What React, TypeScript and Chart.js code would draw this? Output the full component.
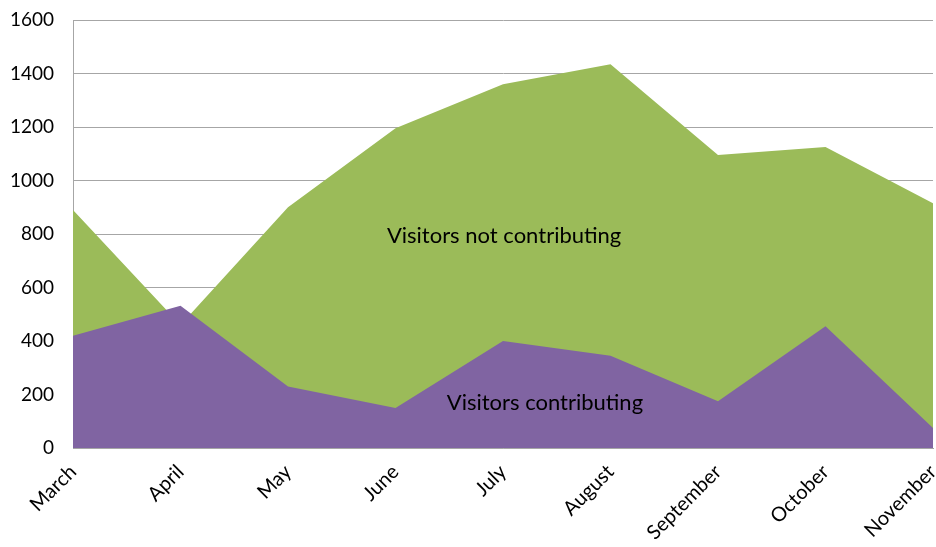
import React, { useEffect, useRef } from "react";
import { Chart, registerables } from "chart.js";

Chart.register(...registerables);

const categories = ["March", "April", "May", "June", "July", "August", "September", "October", "November"];
const notContributing = [890, 460, 900, 1195, 1360, 1435, 1095, 1125, 915];
const contributing = [420, 532, 230, 150, 400, 345, 175, 455, 75];
const yTicks = [0, 200, 400, 600, 800, 1000, 1200, 1400, 1600];
const annotationTexts = ["Visitors not contributing", "Visitors contributing"];
const annotationX = [4.01, 4.39];
const annotationY = [793, 168];

const FONT = "Lato, 'Open Sans', sans-serif";

const labelPlugin = {
  id: "areaLabels",
  afterDatasetsDraw(chart: any) {
    const { ctx, scales } = chart;
    ctx.save();
    ctx.font = `22px ${FONT}`;
    ctx.fillStyle = "#000000";
    ctx.textAlign = "center";
    ctx.textBaseline = "middle";
    annotationTexts.forEach((t, i) => {
      ctx.fillText(t, scales.x.getPixelForValue(annotationX[i]), scales.y.getPixelForValue(annotationY[i]));
    });
    ctx.restore();
  },
};

export default function App() {
  const ref = useRef<HTMLCanvasElement>(null);
  useEffect(() => {
    document.body.style.margin = "0";
    const chart = new Chart(ref.current!, {
      type: "line",
      data: {
        labels: categories,
        datasets: [
          {
            label: "Visitors contributing",
            data: contributing,
            backgroundColor: "#8064A2",
            borderWidth: 0,
            pointRadius: 0,
            fill: "origin",
            tension: 0,
          },
          {
            label: "Visitors not contributing",
            data: notContributing,
            backgroundColor: "#9BBB59",
            borderWidth: 0,
            pointRadius: 0,
            fill: "origin",
            tension: 0,
          },
        ],
      },
      options: {
        animation: false,
        responsive: false,
        layout: { padding: { top: 20, right: 3, left: 0, bottom: 0 } },
        plugins: { legend: { display: false }, tooltip: { enabled: false } },
        scales: {
          x: {
            offset: false,
            grid: { display: false, drawTicks: false },
            border: { color: "#A6A6A6", width: 1 },
            ticks: {
              autoSkip: false,
              maxRotation: 45,
              minRotation: 45,
              padding: 12,
              color: "#000000",
              font: { family: FONT, size: 20 },
            },
            afterFit(scale: any) {
              scale.height = 99;
              scale.paddingLeft = 0;
              scale.paddingRight = 0;
            },
          },
          y: {
            min: 0,
            max: 1600,
            afterBuildTicks(scale: any) {
              scale.ticks = yTicks.map((v) => ({ value: v }));
            },
            grid: { color: "#A6A6A6", drawTicks: false },
            border: { color: "#A6A6A6", width: 1 },
            ticks: {
              padding: 19,
              color: "#000000",
              font: { family: FONT, size: 19 },
              callback: (v: any) => String(v),
            },
            afterFit(scale: any) {
              scale.width = 73;
              scale.paddingTop = 0;
              scale.paddingBottom = 0;
            },
          },
        },
      },
      plugins: [labelPlugin],
    });
    return () => chart.destroy();
  }, []);
  return <canvas ref={ref} width={936} height={547} style={{ display: "block" }} />;
}
